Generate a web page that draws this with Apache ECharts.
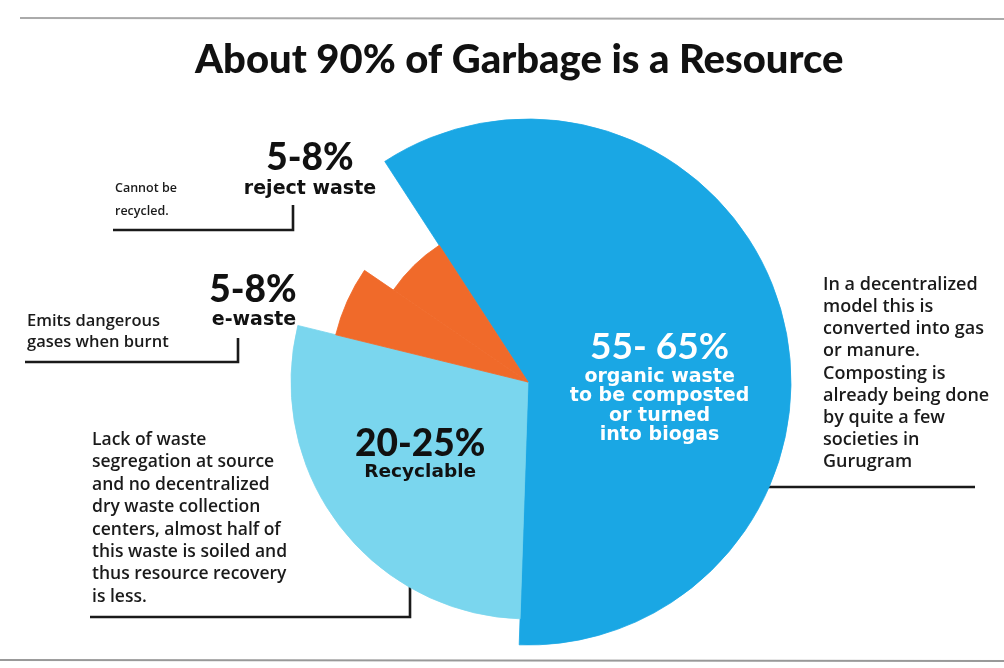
<!DOCTYPE html>
<html><head><meta charset="utf-8">
<script src="https://cdn.jsdelivr.net/npm/echarts@6/dist/echarts.min.js"></script>
<style>html,body{margin:0;padding:0;background:#fff}#c{width:1004px;height:668px}</style>
</head><body><div id="c"></div>
<script>
// ---- data ----
const chartTitle = 'About 90% of Garbage is a Resource';
const categories = ['organic waste', 'Recyclable', 'e-waste', 'reject waste'];
const rangeLabels = ['55- 65%', '20-25%', '5-8%', '5-8%'];
const sliceShares = [59.7, 28.3, 5.7, 6.3];   // share of the circle as drawn
const subLabels = [
  ['organic waste', 'to be composted', 'or turned', 'into biogas'],
  ['Recyclable'],
  ['e-waste'],
  ['reject waste']
];
const notes = [
  ['In a decentralized', 'model this is', 'converted into gas', 'or manure.', 'Composting is', 'already being done', 'by quite a few', 'societies in', 'Gurugram'],
  ['Lack of waste', 'segregation at source', 'and no decentralized', 'dry waste collection', 'centers, almost half of', 'this waste is soiled and', 'thus resource recovery', 'is less.'],
  ['Emits dangerous', 'gases when burnt'],
  ['Cannot be', 'recycled.']
];

// ---- style ----
const colors = ['#1aa7e4', '#7ad6ee', '#f06a2a', '#f06a2a'];
const radiiPx = [263, 237, 198, 163];
const center = [528, 382];
const FONT = 'Lato';
const WIDE = 'DejaVu Sans';

const chart = echarts.init(document.getElementById('c'), null, { renderer: 'canvas' });

const labelRich = [
  { a: { fontFamily: FONT, fontWeight: 'bold', fontSize: 37, color: '#fff', lineHeight: 40 },
    b: { fontFamily: WIDE, fontWeight: 'bold', fontSize: 19, color: '#fff', lineHeight: 19.5 } },
  { a: { fontFamily: FONT, fontWeight: 900, fontSize: 37, color: '#111', lineHeight: 34 },
    b: { fontFamily: WIDE, fontWeight: 'bold', fontSize: 18.5, color: '#111', lineHeight: 22 } }
];
const labelOffsets = [[2, 40], [-11, 0]];

const series = categories.map((_, i) => ({
  type: 'pie',
  center: center,
  radius: [0, radiiPx[i]],
  startAngle: 123,
  clockwise: true,
  silent: true,
  animation: false,
  avoidLabelOverlap: false,
  emphasis: { disabled: true },
  labelLine: { show: false },
  data: categories.map((name, j) => ({
    name: name,
    value: sliceShares[j],
    itemStyle: j === i
      ? { color: colors[i], borderColor: colors[i], borderWidth: 0.8 }
      : { color: 'rgba(0,0,0,0)', borderWidth: 0 },
    label: (j === i && i < 2) ? {
      show: true,
      position: 'inside',
      offset: labelOffsets[i],
      formatter: () => ['{a|' + rangeLabels[i] + '}'].concat(subLabels[i].map(s => '{b|' + s + '}')).join('\n'),
      rich: labelRich[i]
    } : { show: false }
  }))
}));

function textLines(lines, x, y0, dy, style) {
  return lines.map((t, k) => ({
    type: 'text', x: x, y: y0 + k * dy, silent: true,
    style: Object.assign({ text: t, verticalAlign: 'middle' }, style)
  }));
}
const noteStyleL = { font: '600 17.5px "Open Sans"', fill: '#1a1a1a', align: 'left' };
const noteStyleR = { font: '600 18px "Open Sans"', fill: '#1a1a1a', align: 'left' };
const noteStyleS = { font: '600 16.5px "Open Sans"', fill: '#1a1a1a', align: 'left' };
const smallNote = { font: '600 12.5px "Open Sans"', fill: '#1a1a1a', align: 'left' };
const bigStyle = { font: '900 37px Lato', fill: '#111', align: 'center' };
const subStyle = { font: 'bold 19px "DejaVu Sans"', fill: '#111', align: 'center' };
const lineStyle = { stroke: '#1a1a1a', lineWidth: 2.6, fill: null };

const graphic = [].concat(
  // scan edge lines
  [{ type: 'line', silent: true, shape: { x1: 20, y1: 18, x2: 1004, y2: 19 }, style: { stroke: '#aaa', lineWidth: 2 } },
   { type: 'line', silent: true, shape: { x1: 0, y1: 660, x2: 1004, y2: 661 }, style: { stroke: '#999', lineWidth: 2 } }],
  // reject waste label
  textLines([rangeLabels[3]], 310, 158, 0, bigStyle),
  textLines(subLabels[3], 310, 189, 0, subStyle),
  // e-waste label
  textLines([rangeLabels[2]], 253, 290, 0, bigStyle),
  textLines(subLabels[2], 254, 320, 0, subStyle),
  // notes
  textLines(notes[0], 823, 285, 22.1, noteStyleR),
  textLines(notes[1], 92, 440, 22.4, noteStyleL),
  textLines(notes[2], 27, 321, 21, noteStyleS),
  textLines(notes[3], 115, 188, 23, smallNote),
  // brackets
  [
    { type: 'polyline', silent: true, shape: { points: [[113, 230], [293, 230], [293, 205]] }, style: lineStyle },
    { type: 'polyline', silent: true, shape: { points: [[25, 362], [238, 362], [238, 338]] }, style: lineStyle },
    { type: 'polyline', silent: true, shape: { points: [[90, 617], [410, 617], [410, 525]] }, style: lineStyle },
    { type: 'polyline', silent: true, shape: { points: [[693, 462], [693, 487], [975, 487]] }, style: lineStyle }
  ]
);

chart.setOption({
  backgroundColor: '#ffffff',
  animation: false,
  title: {
    text: chartTitle,
    left: 190,
    top: 35,
    textStyle: { fontFamily: FONT, fontWeight: 900, fontSize: 40, color: '#111' }
  },
  series: series,
  graphic: graphic
});
</script>
</body></html>
